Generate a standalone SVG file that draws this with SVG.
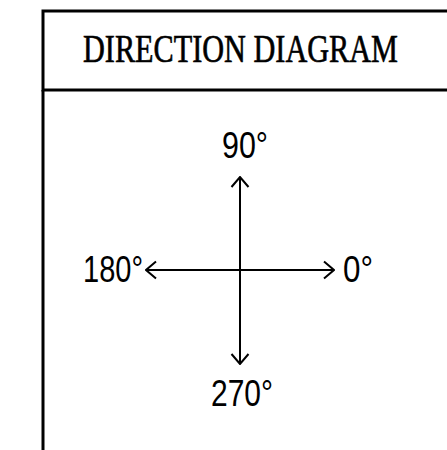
<svg xmlns="http://www.w3.org/2000/svg" width="447" height="450" viewBox="0 0 447 450">
<defs>
<style>
.frame{fill:none;stroke:#000;stroke-width:3}
.ax{fill:none;stroke:#000;stroke-width:2}
.lbl{font-family:"Liberation Sans",Arial,sans-serif;font-size:36px;fill:#000}
.title{font-family:"Liberation Serif","Times New Roman",serif;font-size:41px;font-weight:normal;fill:#000;stroke:#000;stroke-width:0.7}
</style>
<marker id="arr" viewBox="0 0 12 20" refX="11" refY="10" markerWidth="12" markerHeight="20" markerUnits="userSpaceOnUse" orient="auto">
<path d="M1,1.5 L11,10 L1,18.5" fill="none" stroke="#000" stroke-width="2"/>
</marker>
</defs>
<g id="frame">
<rect class="frame" x="43" y="11" width="420" height="79"/>
<line class="frame" x1="43" y1="90" x2="43" y2="452"/>
</g>
<g id="title">
<text class="title" x="83" y="62" textLength="315" lengthAdjust="spacingAndGlyphs">DIRECTION DIAGRAM</text>
</g>
<g id="connectors">
<line class="ax" x1="240" y1="270" x2="240" y2="177" marker-end="url(#arr)"/>
<line class="ax" x1="240" y1="270" x2="240" y2="364" marker-end="url(#arr)"/>
<line class="ax" x1="240" y1="270" x2="146" y2="270" marker-end="url(#arr)"/>
<line class="ax" x1="240" y1="270" x2="334" y2="270" marker-end="url(#arr)"/>
</g>
<g id="n90"><text class="lbl" x="222" y="158" textLength="46" lengthAdjust="spacingAndGlyphs">90°</text></g>
<g id="n180"><text class="lbl" x="83" y="282" textLength="60" lengthAdjust="spacingAndGlyphs">180°</text></g>
<g id="n0"><text class="lbl" x="343" y="282" textLength="30" lengthAdjust="spacingAndGlyphs">0°</text></g>
<g id="n270"><text class="lbl" x="211" y="406" textLength="62" lengthAdjust="spacingAndGlyphs">270°</text></g>
</svg>
